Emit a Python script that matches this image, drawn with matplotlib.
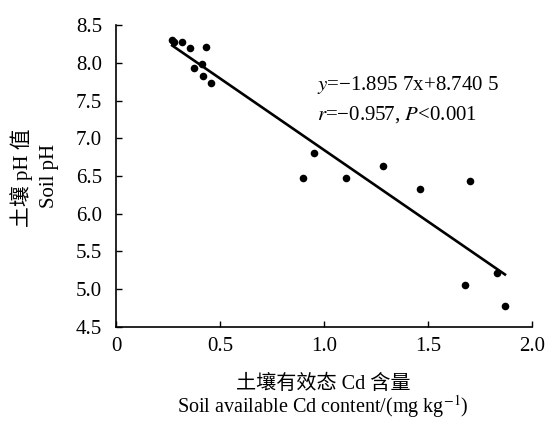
import matplotlib
matplotlib.use("Agg")
import matplotlib.pyplot as plt
import numpy as np

cd = [0.270, 0.278, 0.316, 0.354, 0.434, 0.415, 0.374, 0.420, 0.458,
      0.953, 0.899, 1.107, 1.284, 1.460, 1.702, 1.678, 1.833, 1.870]
ph = [8.30, 8.27, 8.27, 8.19, 8.205, 7.99, 7.93, 7.82, 7.736,
      6.80, 6.47, 6.47, 6.63, 6.33, 6.43, 5.06, 5.21, 4.78]
slope, intercept = -1.8957, 8.7405
xticks = [0, 0.5, 1.0, 1.5, 2.0]
xticklabels = ["0", "0.5", "1.0", "1.5", "2.0"]
yticks = [4.5, 5.0, 5.5, 6.0, 6.5, 7.0, 7.5, 8.0, 8.5]

plt.rcParams['font.family'] = ['Liberation Serif', 'Noto Sans CJK SC', 'DejaVu Sans']
plt.rcParams['mathtext.fontset'] = 'stix'

FS = 15
LFS = 14.5

fig = plt.figure(figsize=(5.48, 4.21), dpi=100)
ax = fig.add_axes([0.2117, 0.2233, 0.7591, 0.7173])

ax.scatter(cd, ph, s=30, color='black', zorder=3, linewidths=0)
xl = np.array([min(cd), max(cd)])
ax.plot(xl, slope * xl + intercept, color='black', lw=1.9)

ax.set_xlim(0, 2.0)
ax.set_ylim(4.5, 8.5)
ax.set_xticks(xticks)
ax.set_xticklabels(xticklabels)
ax.set_yticks(yticks)
ax.set_yticklabels([f"{v:.1f}" for v in yticks])
ax.tick_params(direction='in', length=4, width=1, labelsize=FS)
ax.tick_params(axis='y', pad=10)
ax.tick_params(axis='x', pad=7)
for s in ['top', 'right']:
    ax.spines[s].set_visible(False)
for s in ['left', 'bottom']:
    ax.spines[s].set_linewidth(1.2)

ax.text(0.483, 0.801, r"$y$=−1.895 7x+8.740 5", transform=ax.transAxes,
        fontsize=FS, va='center', ha='left')
ax.text(0.483, 0.702, r"$r$=−0.957, $P$<0.001", transform=ax.transAxes,
        fontsize=FS, va='center', ha='left')

fig.text(0.040, 0.578, "土壤 pH 值", rotation=90, ha='center', va='center', fontsize=FS)
fig.text(0.090, 0.582, "Soil pH", rotation=90, ha='center', va='center', fontsize=FS)
fig.text(0.590, 0.075, "土壤有效态 Cd 含量", ha='center', va='baseline', fontsize=LFS)
fig.text(0.590, 0.020, "Soil available Cd content/(mg kg$^{-1}$)", ha='center', va='baseline', fontsize=LFS)

fig.savefig("out.png", dpi=100)
